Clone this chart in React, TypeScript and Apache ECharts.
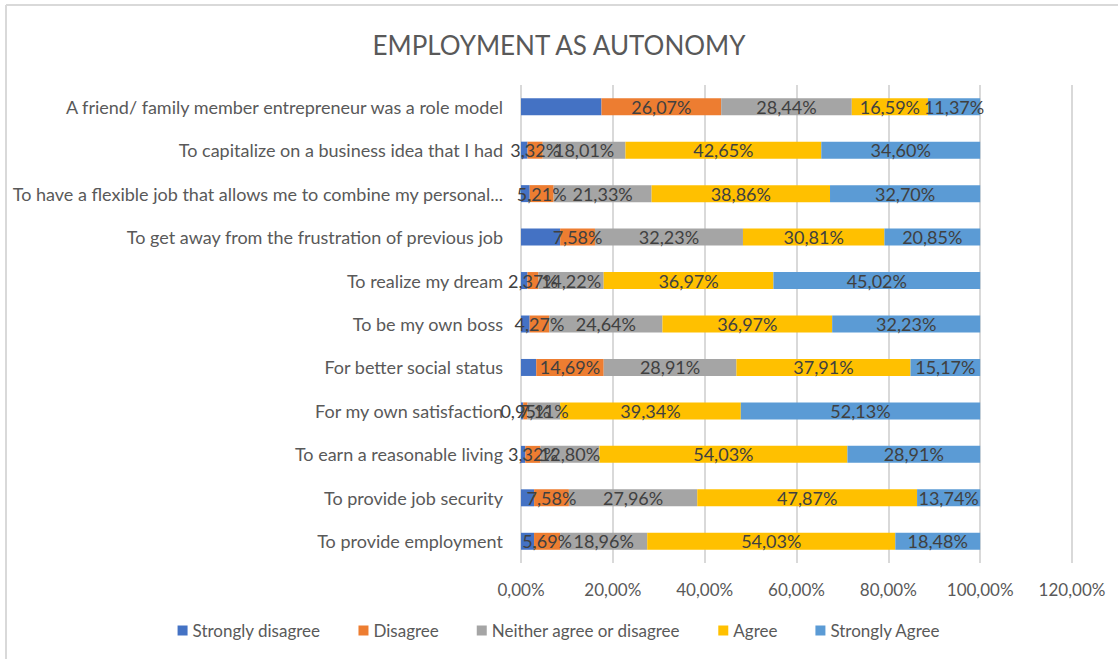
import React, { useEffect, useRef } from "react";
import * as echarts from "echarts";

const categories = [
  "A friend/ family member entrepreneur was a role model",
  "To capitalize on a business idea that I had",
  "To have a flexible job that allows me to combine my personal...",
  "To get away from the frustration of previous job",
  "To realize my dream",
  "To be my own boss",
  "For better social status",
  "For my own satisfaction",
  "To earn a reasonable living",
  "To provide job security",
  "To provide employment",
];

const seriesNames = ["Strongly disagree", "Disagree", "Neither agree or disagree", "Agree", "Strongly Agree"];

const stronglyDisagree = [17.53, 1.42, 1.9, 8.53, 1.42, 1.89, 3.32, 0.47, 0.94, 2.85, 2.84];
const disagree = [26.07, 3.32, 5.21, 7.58, 2.37, 4.27, 14.69, 0.95, 3.32, 7.58, 5.69];
const neither = [28.44, 18.01, 21.33, 32.23, 14.22, 24.64, 28.91, 7.11, 12.8, 27.96, 18.96];
const agree = [16.59, 42.65, 38.86, 30.81, 36.97, 36.97, 37.91, 39.34, 54.03, 47.87, 54.03];
const stronglyAgree = [11.37, 34.6, 32.7, 20.85, 45.02, 32.23, 15.17, 52.13, 28.91, 13.74, 18.48];

const xTicks = { min: 0, max: 120, interval: 20 };

const colors = ["#4472C4", "#ED7D31", "#A5A5A5", "#FFC000", "#5B9BD5"];
const showLabels = [false, true, true, true, true];

const fmt = (v: number) => v.toFixed(2).replace(".", ",") + "%";

const FONT = "Lato, 'Open Sans', sans-serif";

export default function App() {
  const ref = useRef<HTMLDivElement>(null);
  useEffect(() => {
    if (!ref.current) return;
    const chart = echarts.init(ref.current, undefined, { renderer: "svg" });
    const allData = [stronglyDisagree, disagree, neither, agree, stronglyAgree];
    chart.setOption({
      animation: false,
      backgroundColor: "#ffffff",
      textStyle: { fontFamily: FONT },
      title: {
        text: "EMPLOYMENT AS AUTONOMY",
        left: "center",
        top: 27,
        textStyle: { fontFamily: FONT, fontSize: 26, fontWeight: "normal", color: "#595959" },
      },
      graphic: [
        { type: "line", shape: { x1: 6, y1: 5, x2: 6, y2: 659 }, style: { stroke: "#d9d9d9", lineWidth: 2 } },
        { type: "line", shape: { x1: 6, y1: 5, x2: 1118, y2: 5 }, style: { stroke: "#d9d9d9", lineWidth: 2 } },
      ],
      legend: {
        bottom: 15,
        left: "center",
        icon: "rect",
        itemWidth: 10,
        itemHeight: 10,
        itemGap: 38,
        textStyle: { fontFamily: FONT, fontSize: 17, color: "#595959" },
        data: seriesNames,
      },
      grid: { left: 521, right: 46, top: 85, bottom: 96 },
      xAxis: {
        type: "value",
        min: xTicks.min,
        max: xTicks.max,
        interval: xTicks.interval,
        axisLine: { show: false },
        axisTick: { show: false },
        axisLabel: { formatter: (v: number) => fmt(v), color: "#595959", fontSize: 17, margin: 18, fontFamily: FONT },
        splitLine: { lineStyle: { color: "#d9d9d9", width: 2 } },
      },
      yAxis: {
        type: "category",
        inverse: true,
        data: categories,
        axisLine: { show: false },
        axisTick: { show: false },
        axisLabel: { color: "#595959", fontSize: 18, margin: 18, fontFamily: FONT },
      },
      series: seriesNames.map((name, i) => ({
        name,
        type: "bar",
        stack: "total",
        barWidth: 17,
        itemStyle: { color: colors[i] },
        label: {
          show: showLabels[i],
          position: "inside",
          color: "#404040",
          fontSize: 18,
          fontFamily: FONT,
          formatter: (p: any) => fmt(p.value),
        },
        data: allData[i],
      })),
    });
    return () => chart.dispose();
  }, []);
  return <div ref={ref} style={{ position: "fixed", left: 0, top: 0, width: 1118, height: 659 }} />;
}
